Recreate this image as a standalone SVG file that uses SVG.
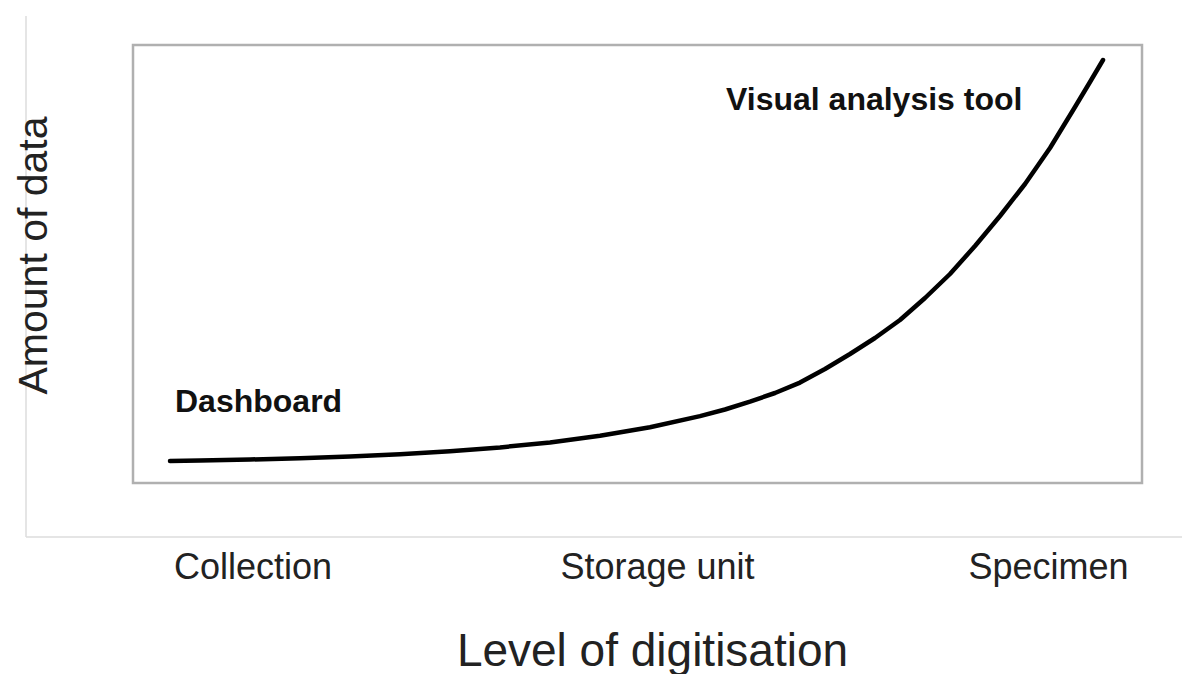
<svg xmlns="http://www.w3.org/2000/svg" width="1182" height="674" viewBox="0 0 1182 674">
  <style>
    .axis { stroke: #dcdcdc; stroke-width: 1.5; fill: none; }
    .frame { stroke: #b0b0b0; stroke-width: 2.5; fill: none; }
    .curve { stroke: #000; stroke-width: 4.5; fill: none; stroke-linecap: round; stroke-linejoin: round; }
    .lbl { font-family: "Liberation Sans", Arial, sans-serif; fill: #222; }
    .bold { font-family: "Liberation Sans", Arial, sans-serif; font-weight: bold; fill: #111; font-size: 32px; }
  </style>
  <rect width="1182" height="674" fill="#fff"/>
  <g id="axes">
    <line class="axis" x1="26" y1="16" x2="26" y2="537"/>
    <line class="axis" x1="26" y1="537" x2="1182" y2="537"/>
  </g>
  <g id="frame">
    <rect class="frame" x="133" y="45" width="1009" height="438"/>
  </g>
  <g id="connectors">
    <polyline class="curve" points="170,461 200,460.5 250,459.5 300,458.2 350,456.4 400,454.2 450,451.2 500,447.4 550,442.4 600,435.8 650,427.3 700,416.1 725,409.5 750,401.6 775,393 800,382.6 825,369 850,354 875,338 900,320 925,298 950,274 975,246 1000,216 1025,184 1050,148 1075,107 1090,82 1103,60"/>
  </g>
  <g id="dashboard">
    <text class="bold" x="175" y="412">Dashboard</text>
  </g>
  <g id="visual-analysis-tool">
    <text class="bold" x="726" y="110">Visual analysis tool</text>
  </g>
  <g id="y-label">
    <text class="lbl" font-size="41" text-anchor="middle" transform="translate(47,255.5) rotate(-90)">Amount of data</text>
  </g>
  <g id="x-ticks">
    <text class="lbl" font-size="36" text-anchor="middle" x="253" y="579">Collection</text>
    <text class="lbl" font-size="36" text-anchor="middle" x="657.5" y="579">Storage unit</text>
    <text class="lbl" font-size="36" text-anchor="middle" x="1048.5" y="579">Specimen</text>
  </g>
  <g id="x-label">
    <text class="lbl" font-size="46" text-anchor="middle" x="652.5" y="666">Level of digitisation</text>
  </g>
</svg>
